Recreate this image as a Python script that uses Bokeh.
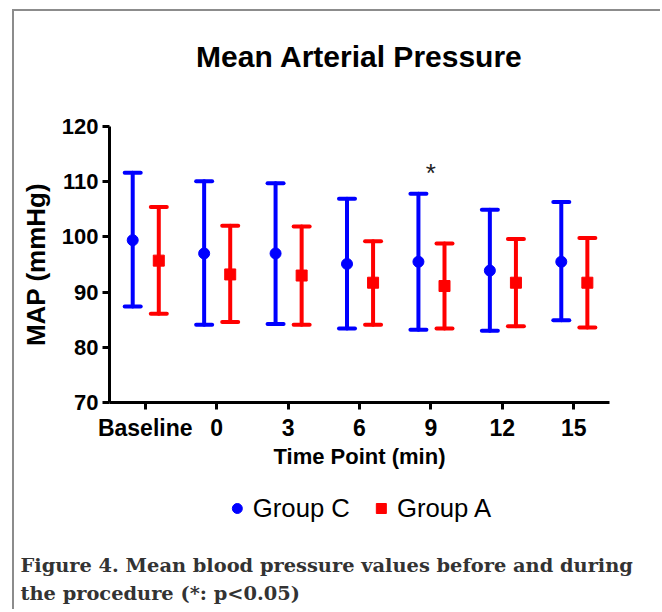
from bokeh.plotting import figure
from bokeh.models import (FactorRange, Range1d, FixedTicker, Whisker, TeeHead,
                          ColumnDataSource, Legend, LegendItem, Label)
from bokeh.layouts import column, row
from bokeh.transform import dodge
from bokeh.core.properties import value
from bokeh.embed import file_html
from bokeh.resources import INLINE

# ---- data ----
categories = ["Baseline", "0", "3", "6", "9", "12", "15"]
c_mean = [99.4, 97.0, 97.0, 95.1, 95.5, 93.9, 95.5]
c_upper = [111.6, 110.1, 109.7, 106.9, 107.8, 104.9, 106.3]
c_lower = [87.4, 84.1, 84.2, 83.4, 83.2, 83.0, 84.9]
a_mean = [95.7, 93.2, 93.0, 91.7, 91.1, 91.7, 91.7]
a_upper = [105.4, 102.0, 101.9, 99.2, 98.8, 99.6, 99.8]
a_lower = [86.1, 84.6, 84.1, 84.1, 83.4, 83.8, 83.6]
y_ticks = [70, 80, 90, 100, 110, 120]
sig_points = ["9"]
sig_y = [111.5]
series_names = ["Group C", "Group A"]
title_text = "Mean Arterial Pressure"
caption_lines = ["Figure 4. Mean blood pressure values before and during",
                 "the procedure (*: p<0.05)"]

SANS = "Liberation Sans"
SERIF = "DejaVu Serif"
W = 646
BLUE = "#0000FF"
RED = "#FF0000"


def blank(h, xr, yr, left=0, right=0):
    f = figure(width=W, height=h, x_range=xr, y_range=yr, output_backend="svg",
               toolbar_location=None, x_axis_location=None, y_axis_location=None,
               min_border=0, min_border_left=left, min_border_right=right,
               min_border_top=0, min_border_bottom=0)
    f.xgrid.visible = False
    f.ygrid.visible = False
    f.outline_line_color = None
    return f


# ---- title strip ----
TH = 80
tfig = blank(TH, Range1d(0, W), Range1d(TH, 0))
tfig.add_layout(Label(x=345, y=45, text=title_text, text_align="center",
                      text_baseline="alphabetic", text_font=SANS,
                      text_font_style="bold", text_font_size="30px",
                      text_color="black"))

# ---- main chart ----
p = figure(x_range=FactorRange(factors=categories), y_range=Range1d(70, 120),
           width=W, height=384, output_backend="svg", toolbar_location=None,
           min_border_left=95, min_border_right=51, min_border_top=35,
           min_border_bottom=73)
p.xgrid.visible = False
p.ygrid.visible = False
p.outline_line_color = None

for ax in (p.xaxis[0], p.yaxis[0]):
    ax.axis_line_width = 3
    ax.axis_line_color = "black"
    ax.major_tick_line_width = 3
    ax.major_tick_line_color = "black"
    ax.major_tick_in = 0
    ax.major_tick_out = 7
    ax.minor_tick_line_color = None
    ax.major_label_text_font = SANS
    ax.major_label_text_font_style = "bold"
    ax.major_label_text_color = "black"
    ax.axis_label_text_font = SANS
    ax.axis_label_text_font_style = "bold"
    ax.axis_label_text_color = "black"

p.yaxis.ticker = FixedTicker(ticks=y_ticks)
p.yaxis.major_label_text_font_size = "22px"
p.yaxis.axis_label = "MAP (mmHg)"
p.yaxis.axis_label_text_font_size = "26px"
p.yaxis.axis_label_standoff = 8
p.yaxis.major_label_standoff = 4

p.xaxis.major_label_text_font_size = "23px"
p.xaxis.axis_label = "Time Point (min)"
p.xaxis.axis_label_text_font_size = "22px"
p.xaxis.axis_label_standoff = 0
p.xaxis.major_label_standoff = 5

src_c = ColumnDataSource(dict(x=categories, mean=c_mean, upper=c_upper, lower=c_lower))
src_a = ColumnDataSource(dict(x=categories, mean=a_mean, upper=a_upper, lower=a_lower))

off_c = -0.175
off_a = 0.19

for src, off, col in ((src_c, off_c, BLUE), (src_a, off_a, RED)):
    w = Whisker(base=dodge("x", off, range=p.x_range), upper="upper", lower="lower",
                source=src, line_color=col, line_width=4, line_cap="round",
                upper_head=TeeHead(size=16, line_color=col, line_width=4, line_cap="round"),
                lower_head=TeeHead(size=16, line_color=col, line_width=4, line_cap="round"))
    p.add_layout(w)

p.scatter(x=dodge("x", off_c, range=p.x_range), y="mean", source=src_c,
          marker="circle", size=11, fill_color=BLUE, line_color=BLUE)
p.scatter(x=dodge("x", off_a, range=p.x_range), y="mean", source=src_a,
          marker="square", size=11, fill_color=RED, line_color=RED)

p.text(x=sig_points, y=sig_y, text=["*"], text_align="center", text_baseline="middle",
       text_font=value(SANS), text_font_size="26px", text_color="#222222")

# ---- legend strip (legend proxies use the series data, which lies outside this strip's view) ----
LH = 65
lfig = blank(LH, Range1d(0, 1), Range1d(0, 1), left=41, right=0)
lc = lfig.scatter(x=c_mean, y=c_mean, marker="circle", fill_color=BLUE, line_color=BLUE)
la = lfig.scatter(x=a_mean, y=a_mean, marker="square", fill_color=RED, line_color=RED)
legend = Legend(items=[LegendItem(label=series_names[0], renderers=[lc]),
                       LegendItem(label=series_names[1], renderers=[la])],
                orientation="horizontal", location="center",
                padding=0, margin=0, spacing=18, glyph_width=25, glyph_height=25,
                label_height=25, label_standoff=4, border_line_color=None,
                background_fill_alpha=0, label_text_font=SANS,
                label_text_font_size="25.7px", label_text_color="black")
lfig.add_layout(legend)

# ---- caption strip ----
CH = 69
cfig = blank(CH, Range1d(0, W), Range1d(CH, 0))
for i, line in enumerate(caption_lines):
    cfig.add_layout(Label(x=6, y=25 + 28 * i, text=line, text_align="left",
                          text_baseline="alphabetic", text_font=SERIF,
                          text_font_style="bold", text_font_size="19.4px",
                          text_color="#333333"))

layout = column(row(tfig), p, row(lfig), row(cfig), spacing=0)
layout.margin = (9, 0, 0, 12)
layout.styles = {"border-top": "2px solid #8c8c8c", "border-left": "2px solid #8c8c8c"}

open("out.html", "w").write(file_html(layout, INLINE))
